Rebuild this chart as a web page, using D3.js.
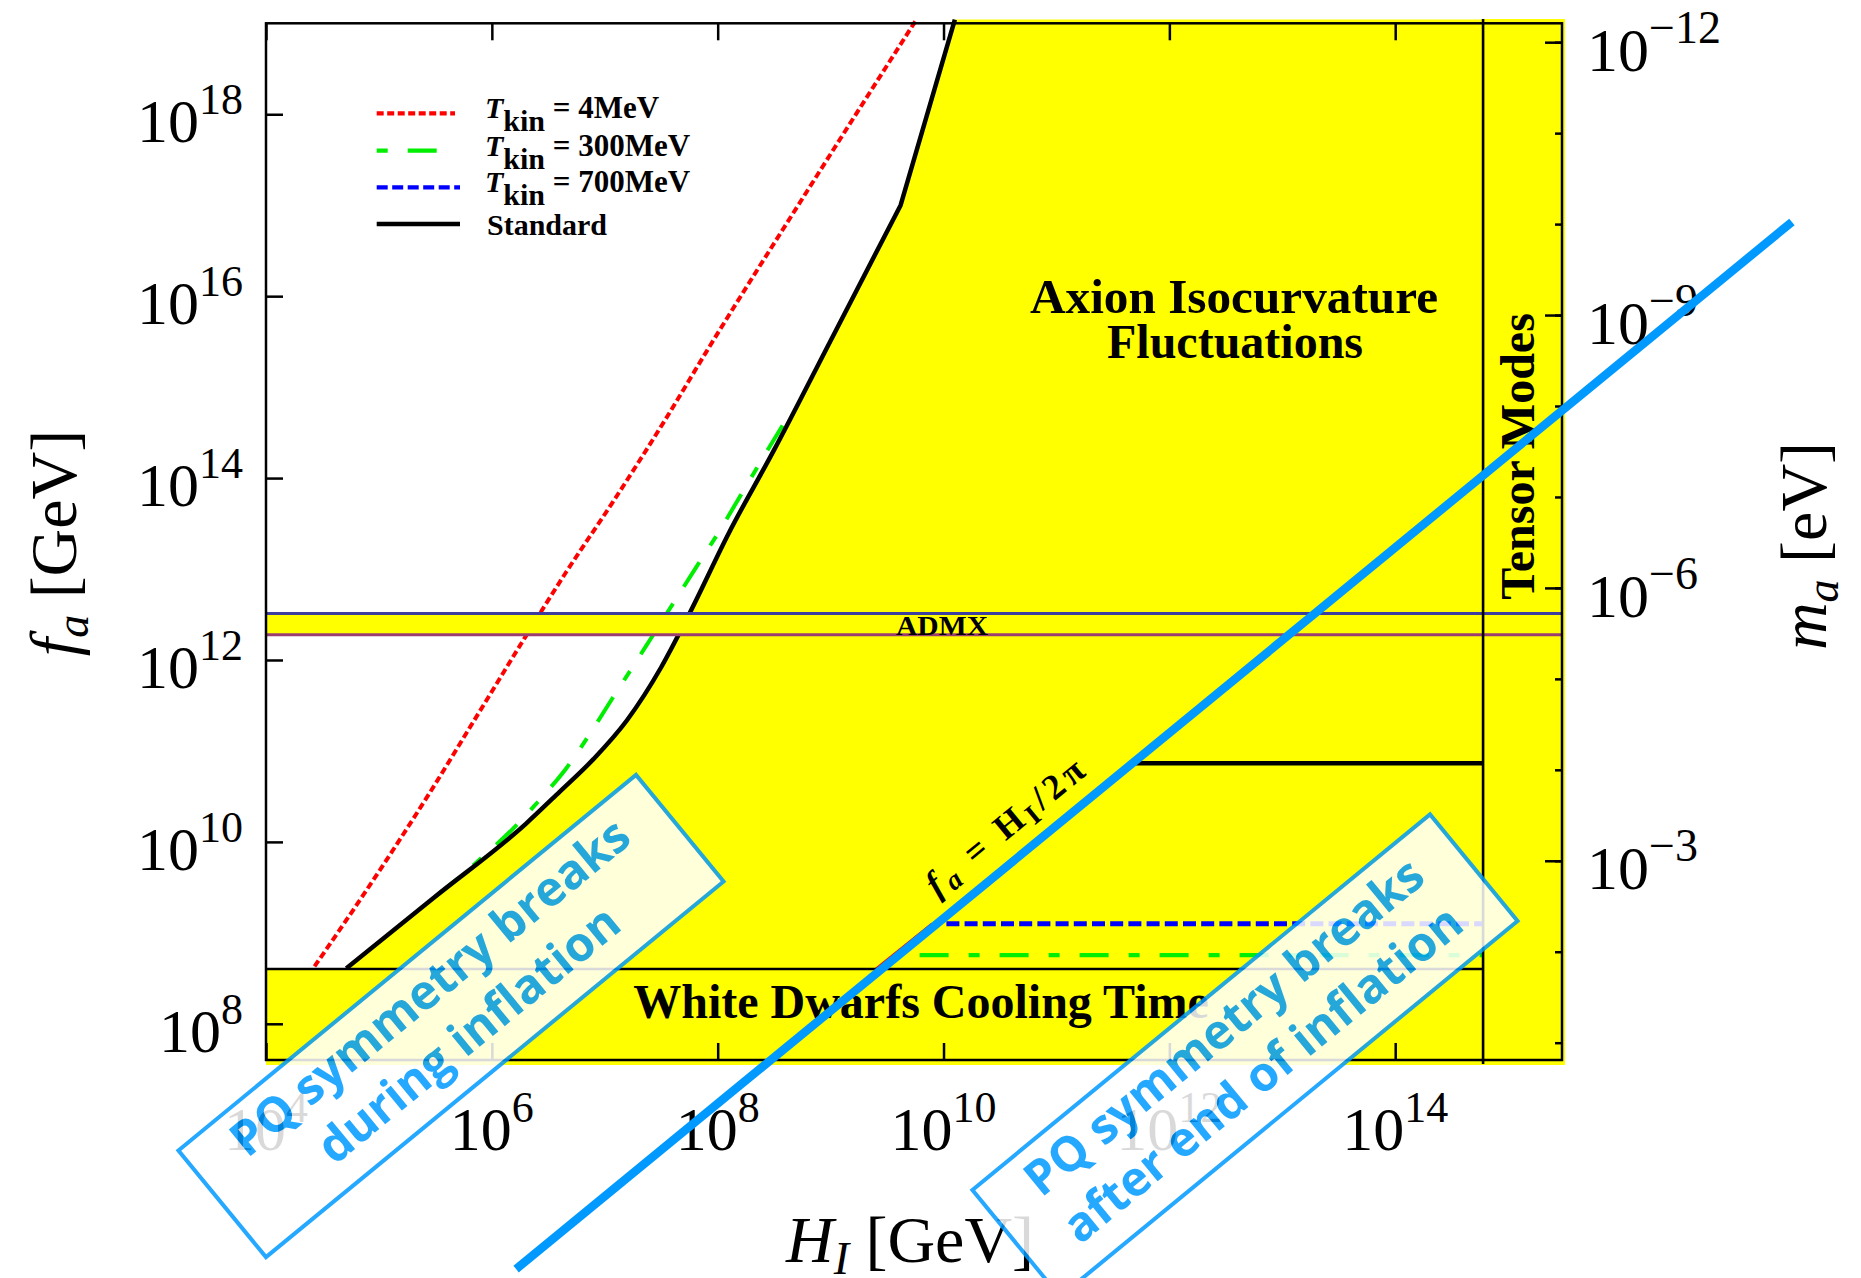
<!DOCTYPE html>
<html>
<head>
<meta charset="utf-8">
<script src="https://cdn.jsdelivr.net/npm/d3@7/dist/d3.min.js"></script>
<style>
html,body{margin:0;padding:0;background:#fff;}
svg{display:block;}
text{white-space:pre;}
</style>
</head>
<body>
<svg id="chart" width="1861" height="1278" xmlns="http://www.w3.org/2000/svg"></svg>
<script>
// ===================== DATA =====================
// x: H_I [GeV] (Hubble scale during inflation), y: f_a [GeV]
const xDomain = [1e4, 3e15];
const yDomain = [4e7, 1e19];
const xTickPowers = [4, 6, 8, 10, 12, 14];
const yTickPowers = [8, 10, 12, 14, 16, 18];
const maLabelPowers = [-12, -9, -6, -3];
const maMinorPowers = [-12, -11, -10, -9, -8, -7, -6, -5, -4, -3, -2, -1];
const maTimesFa = 6.2e6; // m_a [eV] * f_a [GeV]

// "Standard" isocurvature bound (black)  [H_I, f_a]
const standardCurve = [
  [5.13e4, 4.07e8], [3.16e5, 2.51e9], [2.0e6, 1.58e10], [3.98e6, 3.55e10],
  [7.94e6, 8.13e10], [1.58e7, 2.19e11], [3.16e7, 8.32e11], [5.62e7, 3.24e12],
  [1.26e8, 2.51e13], [3.16e8, 2.04e14], [1.0e9, 3.24e15], [4.17e9, 1.0e17],
  [1.26e10, 1.10e19]
];
// T_kin = 4 MeV (red dotted)
const tkin4Curve = [
  [2.69e4, 4.27e8], [1.02e5, 4.90e9], [2.82e5, 3.47e10], [7.76e5, 2.69e11],
  [1.95e6, 1.74e12], [4.57e6, 9.33e12], [1.17e7, 5.37e13], [3.31e7, 4.07e14],
  [8.13e7, 2.57e15], [6.31e8, 1.48e17], [5.62e9, 1.05e19]
];
// T_kin = 300 MeV (green dash-dot)
const tkin300Curve = [
  [3.16e5, 2.51e9], [5.62e5, 4.47e9], [8.91e5, 7.41e9], [1.55e6, 1.41e10],
  [2.82e6, 3.16e10], [4.57e6, 6.46e10], [7.41e6, 1.55e11], [1.17e7, 3.80e11],
  [1.78e7, 8.51e11], [2.51e7, 1.66e12], [4.27e7, 4.68e12], [6.46e7, 1.05e13],
  [1.05e8, 2.69e13], [1.58e8, 6.31e13], [2.51e8, 1.66e14], [4.37e8, 5.13e14]
];
// post-inflationary PQ breaking bounds (horizontal segments)
const postStandard = [[4.6e11, 7.3e10], [6e14, 7.3e10]];
const postTkin700 = [[1.06e10, 1.26e9], [6e14, 1.26e9]];
const postTkin300 = [[6.14e9, 5.7e8], [6e14, 5.7e8]];
const postTkin4 = [[2.51e9, 4.0e8], [7.9e9, 1.26e9]];

// excluded bands
const whiteDwarfFa = 4.0e8;         // f_a below is excluded
const admxFa = [1.9e12, 3.25e12];   // ADMX band
const tensorHI = 6e14;              // H_I above is excluded

// f_a = H_I / 2pi annotation line endpoints [H_I, f_a]
const pqLine = [[1.64e6, 2.01e5], [3.26e17, 6.55e16]];
const pqLabelHI = 5.25e10;

const legendTkin = ["4MeV", "300MeV", "700MeV"];
const legendStandard = "Standard";
const boxTexts = [
  ["PQ symmetry breaks", "during inflation"],
  ["PQ symmetry breaks", "after end of inflation"]
];

// ===================== LAYOUT / STYLE =====================
const SERIF = "'Liberation Serif','Times New Roman',serif";
const SANS = "'Open Sans','Noto Sans',sans-serif";
const YELLOW = "#ffff00";
const PQBLUE = "#0099ff";
const L = 266, R = 1562, T = 23.3, B = 1060;

const svg = d3.select("#chart");
const x = d3.scaleLog().domain(xDomain).range([L, R]);
const y = d3.scaleLog().domain(yDomain).range([B, T]);
const ma = d3.scaleLog().domain([maTimesFa / yDomain[0], maTimesFa / yDomain[1]]).range([B, T]);

svg.append("rect").attr("width", 1861).attr("height", 1278).attr("fill", "#fff");

const defs = svg.append("defs");
defs.append("clipPath").attr("id", "clipFill").append("rect")
  .attr("x", L).attr("y", 19).attr("width", R - L + 3).attr("height", B + 5 - 19);
defs.append("clipPath").attr("id", "clipPlot").append("rect")
  .attr("x", L).attr("y", 17).attr("width", R - L).attr("height", B - 17);

const curve = d3.line().x(d => x(d[0])).y(d => y(d[1])).curve(d3.curveMonotoneX);
const straight = d3.line().x(d => x(d[0])).y(d => y(d[1]));

// standard bound: smooth up to the kink, then a straight last segment
const KINK = standardCurve.length - 2;
const standardPath = curve(standardCurve.slice(0, KINK + 1)) +
  standardCurve.slice(KINK + 1).map(d => `L${x(d[0])},${y(d[1])}`).join("");

// ---- yellow isocurvature region ----
const gFill = svg.append("g").attr("clip-path", "url(#clipFill)");
const topF = standardCurve[standardCurve.length - 1][1];
const regionPath = standardPath +
  `L${x(xDomain[1]) + 5},${y(topF)}L${x(xDomain[1]) + 5},${y(yDomain[0]) + 10}` +
  `L${x(standardCurve[0][0])},${y(yDomain[0]) + 10}Z`;
gFill.append("path").attr("d", regionPath).attr("fill", YELLOW);
// tensor region
gFill.append("rect").attr("x", x(tensorHI)).attr("y", 0)
  .attr("width", R + 10 - x(tensorHI)).attr("height", B + 10).attr("fill", YELLOW);

// ---- curves ----
const gCurves = svg.append("g").attr("clip-path", "url(#clipPlot)").attr("fill", "none");
gCurves.append("path").attr("d", curve(tkin4Curve))
  .attr("stroke", "#ff0000").attr("stroke-width", 4).attr("stroke-dasharray", "7,3.5");
gCurves.append("path").attr("d", curve(tkin300Curve))
  .attr("stroke", "#00ee00").attr("stroke-width", 4).attr("stroke-dasharray", "29,20,11,20");
gCurves.append("path").attr("d", standardPath)
  .attr("stroke", "#000").attr("stroke-width", 4.5).attr("stroke-linejoin", "round");
// post-inflation lines
gCurves.append("path").attr("d", straight(postTkin4))
  .attr("stroke", "#ff0000").attr("stroke-width", 2.5);
gCurves.append("path").attr("d", straight(postTkin300))
  .attr("stroke", "#00ee00").attr("stroke-width", 4.3).attr("stroke-dasharray", "29,20,11,20");
gCurves.append("path").attr("d", straight(postTkin700))
  .attr("stroke", "#0000ff").attr("stroke-width", 5).attr("stroke-dasharray", "13,5.2");
gCurves.append("path").attr("d", straight(postStandard))
  .attr("stroke", "#000").attr("stroke-width", 4.5);

// ---- white dwarf band ----
const gBands = svg.append("g").attr("clip-path", "url(#clipFill)");
gBands.append("rect").attr("x", L).attr("y", y(whiteDwarfFa))
  .attr("width", R + 5 - L).attr("height", B + 10 - y(whiteDwarfFa)).attr("fill", YELLOW);
svg.append("line").attr("x1", L).attr("x2", x(tensorHI))
  .attr("y1", y(whiteDwarfFa)).attr("y2", y(whiteDwarfFa))
  .attr("stroke", "#000").attr("stroke-width", 2.6);
// ---- ADMX band ----
svg.append("rect").attr("x", L).attr("y", y(admxFa[1]))
  .attr("width", R - L).attr("height", y(admxFa[0]) - y(admxFa[1])).attr("fill", YELLOW);
svg.append("line").attr("x1", L).attr("x2", R).attr("y1", y(admxFa[1])).attr("y2", y(admxFa[1]))
  .attr("stroke", "#3e3e9e").attr("stroke-width", 3);
svg.append("line").attr("x1", L).attr("x2", R).attr("y1", y(admxFa[0])).attr("y2", y(admxFa[0]))
  .attr("stroke", "#9a3e72").attr("stroke-width", 3);
// tensor boundary
svg.append("line").attr("x1", x(tensorHI)).attr("x2", x(tensorHI))
  .attr("y1", 19).attr("y2", B + 4).attr("stroke", "#000").attr("stroke-width", 2.6);

// ---- region labels ----
const bold = (sel) => sel.attr("font-family", SERIF).attr("font-weight", "bold").attr("fill", "#000");
bold(svg.append("text")).attr("x", 1234).attr("y", 313).attr("text-anchor", "middle")
  .attr("font-size", 48).attr("textLength", 408).attr("lengthAdjust", "spacingAndGlyphs")
  .text("Axion Isocurvature");
bold(svg.append("text")).attr("x", 1235).attr("y", 358).attr("text-anchor", "middle")
  .attr("font-size", 48).text("Fluctuations");
bold(svg.append("text")).attr("x", 921).attr("y", 1018).attr("text-anchor", "middle")
  .attr("font-size", 48).text("White Dwarfs Cooling Time");
bold(svg.append("text")).attr("x", 942).attr("y", y(admxFa[0]) + 0.5).attr("text-anchor", "middle")
  .attr("font-size", 27).attr("textLength", 92).attr("lengthAdjust", "spacingAndGlyphs").text("ADMX");
bold(svg.append("text")).attr("transform", "translate(1534,456.5) rotate(-90)")
  .attr("text-anchor", "middle").attr("font-size", 48).text("Tensor Modes");

// ---- frame & ticks ----
const tickStyle = g => {
  g.select(".domain").remove();
  g.selectAll("line").attr("stroke", "#000").attr("stroke-width", 2.5);
};
const yTicks = yTickPowers.map(p => Math.pow(10, p));
const xTicks = xTickPowers.map(p => Math.pow(10, p));
svg.append("g").attr("transform", `translate(${L},0)`)
  .call(d3.axisRight(y).tickValues(yTicks).tickSize(17).tickFormat("")).call(tickStyle);
svg.append("g").attr("transform", `translate(0,${T})`)
  .call(d3.axisBottom(x).tickValues(xTicks).tickSize(17).tickFormat("")).call(tickStyle);
svg.append("g").attr("transform", `translate(0,${B})`)
  .call(d3.axisTop(x).tickValues(xTicks).tickSize(17).tickFormat("")).call(tickStyle);
svg.append("g").attr("transform", `translate(${R},0)`)
  .call(d3.axisLeft(ma).tickValues(maMinorPowers.map(p => Math.pow(10, p))).tickSize(7).tickFormat("")).call(tickStyle);
svg.append("g").attr("transform", `translate(${R},0)`)
  .call(d3.axisLeft(ma).tickValues(maLabelPowers.map(p => Math.pow(10, p))).tickSize(17).tickFormat("")).call(tickStyle);
svg.append("rect").attr("x", L).attr("y", T).attr("width", R - L).attr("height", B - T)
  .attr("fill", "none").attr("stroke", "#000").attr("stroke-width", 2.5);

// ---- tick labels ----
function powLabel(g, px, py, p, anchor, supSize) {
  const t = g.append("text").attr("x", px).attr("y", py).attr("text-anchor", anchor)
    .attr("font-family", SERIF).attr("font-size", 62).attr("fill", "#000");
  t.append("tspan").text("10");
  t.append("tspan").attr("font-size", supSize).attr("dy", -28).text(String(p).replace("-", "\u2212"));
}
const gLab = svg.append("g");
yTickPowers.forEach(p => powLabel(gLab, 243, y(Math.pow(10, p)) + 28, p, "end", 44));
xTickPowers.forEach(p => powLabel(gLab, x(Math.pow(10, p)), 1150, p, "middle", 44));
maLabelPowers.forEach(p => powLabel(gLab, 1587, ma(Math.pow(10, p)) + 28.6, p, "start", 46));

// ---- axis titles ----
function axTitle(transform, main, sub, rest) {
  const t = svg.append("text").attr("transform", transform).attr("text-anchor", "middle")
    .attr("font-family", SERIF).attr("font-size", 66).attr("fill", "#000");
  t.append("tspan").attr("font-style", "italic").text(main);
  t.append("tspan").attr("font-style", "italic").attr("font-size", 46).attr("dy", 12).text(sub);
  t.append("tspan").attr("dy", -12).text(rest);
}
axTitle("translate(76,543) rotate(-90)", "f", "a", " [GeV]");
axTitle("translate(1826,546) rotate(-90)", "m", "a", " [eV]");
axTitle("translate(910,1262)", "H", "I", " [GeV]");

// ---- legend ----
const legendRowsY = [113.3, 150.7, 187.3, 224];
const legendStyles = [
  {stroke: "#ff0000", dash: "7,3.5", x2: 455, off: 0},
  {stroke: "#00ee00", dash: "29,20,11,20", x2: 437, off: 49},
  {stroke: "#0000ff", dash: "11,4.5", x2: 460, off: 0},
  {stroke: "#000", dash: null, x2: 460, off: 0}
];
const gLeg = svg.append("g");
legendStyles.forEach((s, i) => {
  const ln = gLeg.append("line").attr("x1", 376.7).attr("x2", s.x2)
    .attr("y1", legendRowsY[i]).attr("y2", legendRowsY[i])
    .attr("stroke", s.stroke).attr("stroke-width", 4.3);
  if (s.dash) ln.attr("stroke-dasharray", s.dash).attr("stroke-dashoffset", s.off);
});
legendTkin.forEach((v, i) => {
  const t = bold(gLeg.append("text")).attr("x", 485).attr("y", legendRowsY[i] + 5).attr("font-size", 30);
  t.append("tspan").attr("font-style", "italic").text("T");
  t.append("tspan").attr("dy", 13).text("kin");
  t.append("tspan").attr("dy", -13).attr("font-size", 31).text(" = " + v);
});
bold(gLeg.append("text")).attr("x", 487).attr("y", legendRowsY[3] + 11).attr("font-size", 30).text(legendStandard);

// ---- f_a = H_I / 2pi line ----
const p0 = [x(pqLine[0][0]), y(pqLine[0][1])];
const p1 = [x(pqLine[1][0]), y(pqLine[1][1])];
svg.append("line").attr("x1", p0[0]).attr("y1", p0[1]).attr("x2", p1[0]).attr("y2", p1[1])
  .attr("stroke", PQBLUE).attr("stroke-width", 8.5);
const angle = Math.atan2(p1[1] - p0[1], p1[0] - p0[0]) * 180 / Math.PI;
const pqF = (h) => {
  const t = (Math.log10(h) - Math.log10(pqLine[0][0])) / (Math.log10(pqLine[1][0]) - Math.log10(pqLine[0][0]));
  return Math.pow(10, Math.log10(pqLine[0][1]) + t * (Math.log10(pqLine[1][1]) - Math.log10(pqLine[0][1])));
};
const lbl = bold(svg.append("text"))
  .attr("transform", `translate(${x(pqLabelHI)},${y(pqF(pqLabelHI))}) rotate(${angle})`)
  .attr("x", 0).attr("y", -20).attr("text-anchor", "middle").attr("font-size", 36)
  .attr("textLength", 194).attr("lengthAdjust", "spacing");
lbl.append("tspan").attr("font-style", "italic").text("f");
lbl.append("tspan").attr("font-style", "italic").attr("font-size", 28).attr("dy", 6).text("a");
lbl.append("tspan").attr("dy", -6).text(" = H");
lbl.append("tspan").attr("font-size", 28).attr("dy", 6).text("I");
lbl.append("tspan").attr("dy", -6).text("/2\u03c0");

// ---- PQ annotation boxes ----
const boxCenters = [[451, 1016], [1245, 1055.5]];
const BOX_W = 592, BOX_H = 138;
boxTexts.forEach((lines, i) => {
  const g = svg.append("g").attr("opacity", 0.85)
    .attr("transform", `translate(${boxCenters[i][0]},${boxCenters[i][1]}) rotate(${angle})`);
  g.append("rect").attr("x", -BOX_W / 2).attr("y", -BOX_H / 2).attr("width", BOX_W).attr("height", BOX_H)
    .attr("fill", "#fff").attr("stroke", PQBLUE).attr("stroke-width", 4);
  lines.forEach((s, j) => {
    g.append("text").attr("x", 2).attr("y", j === 0 ? -19 : 42).attr("text-anchor", "middle")
      .attr("font-family", SANS).attr("font-weight", 700).attr("font-size", 48)
      .attr("fill", PQBLUE).text(s);
  });
});
</script>
</body>
</html>
